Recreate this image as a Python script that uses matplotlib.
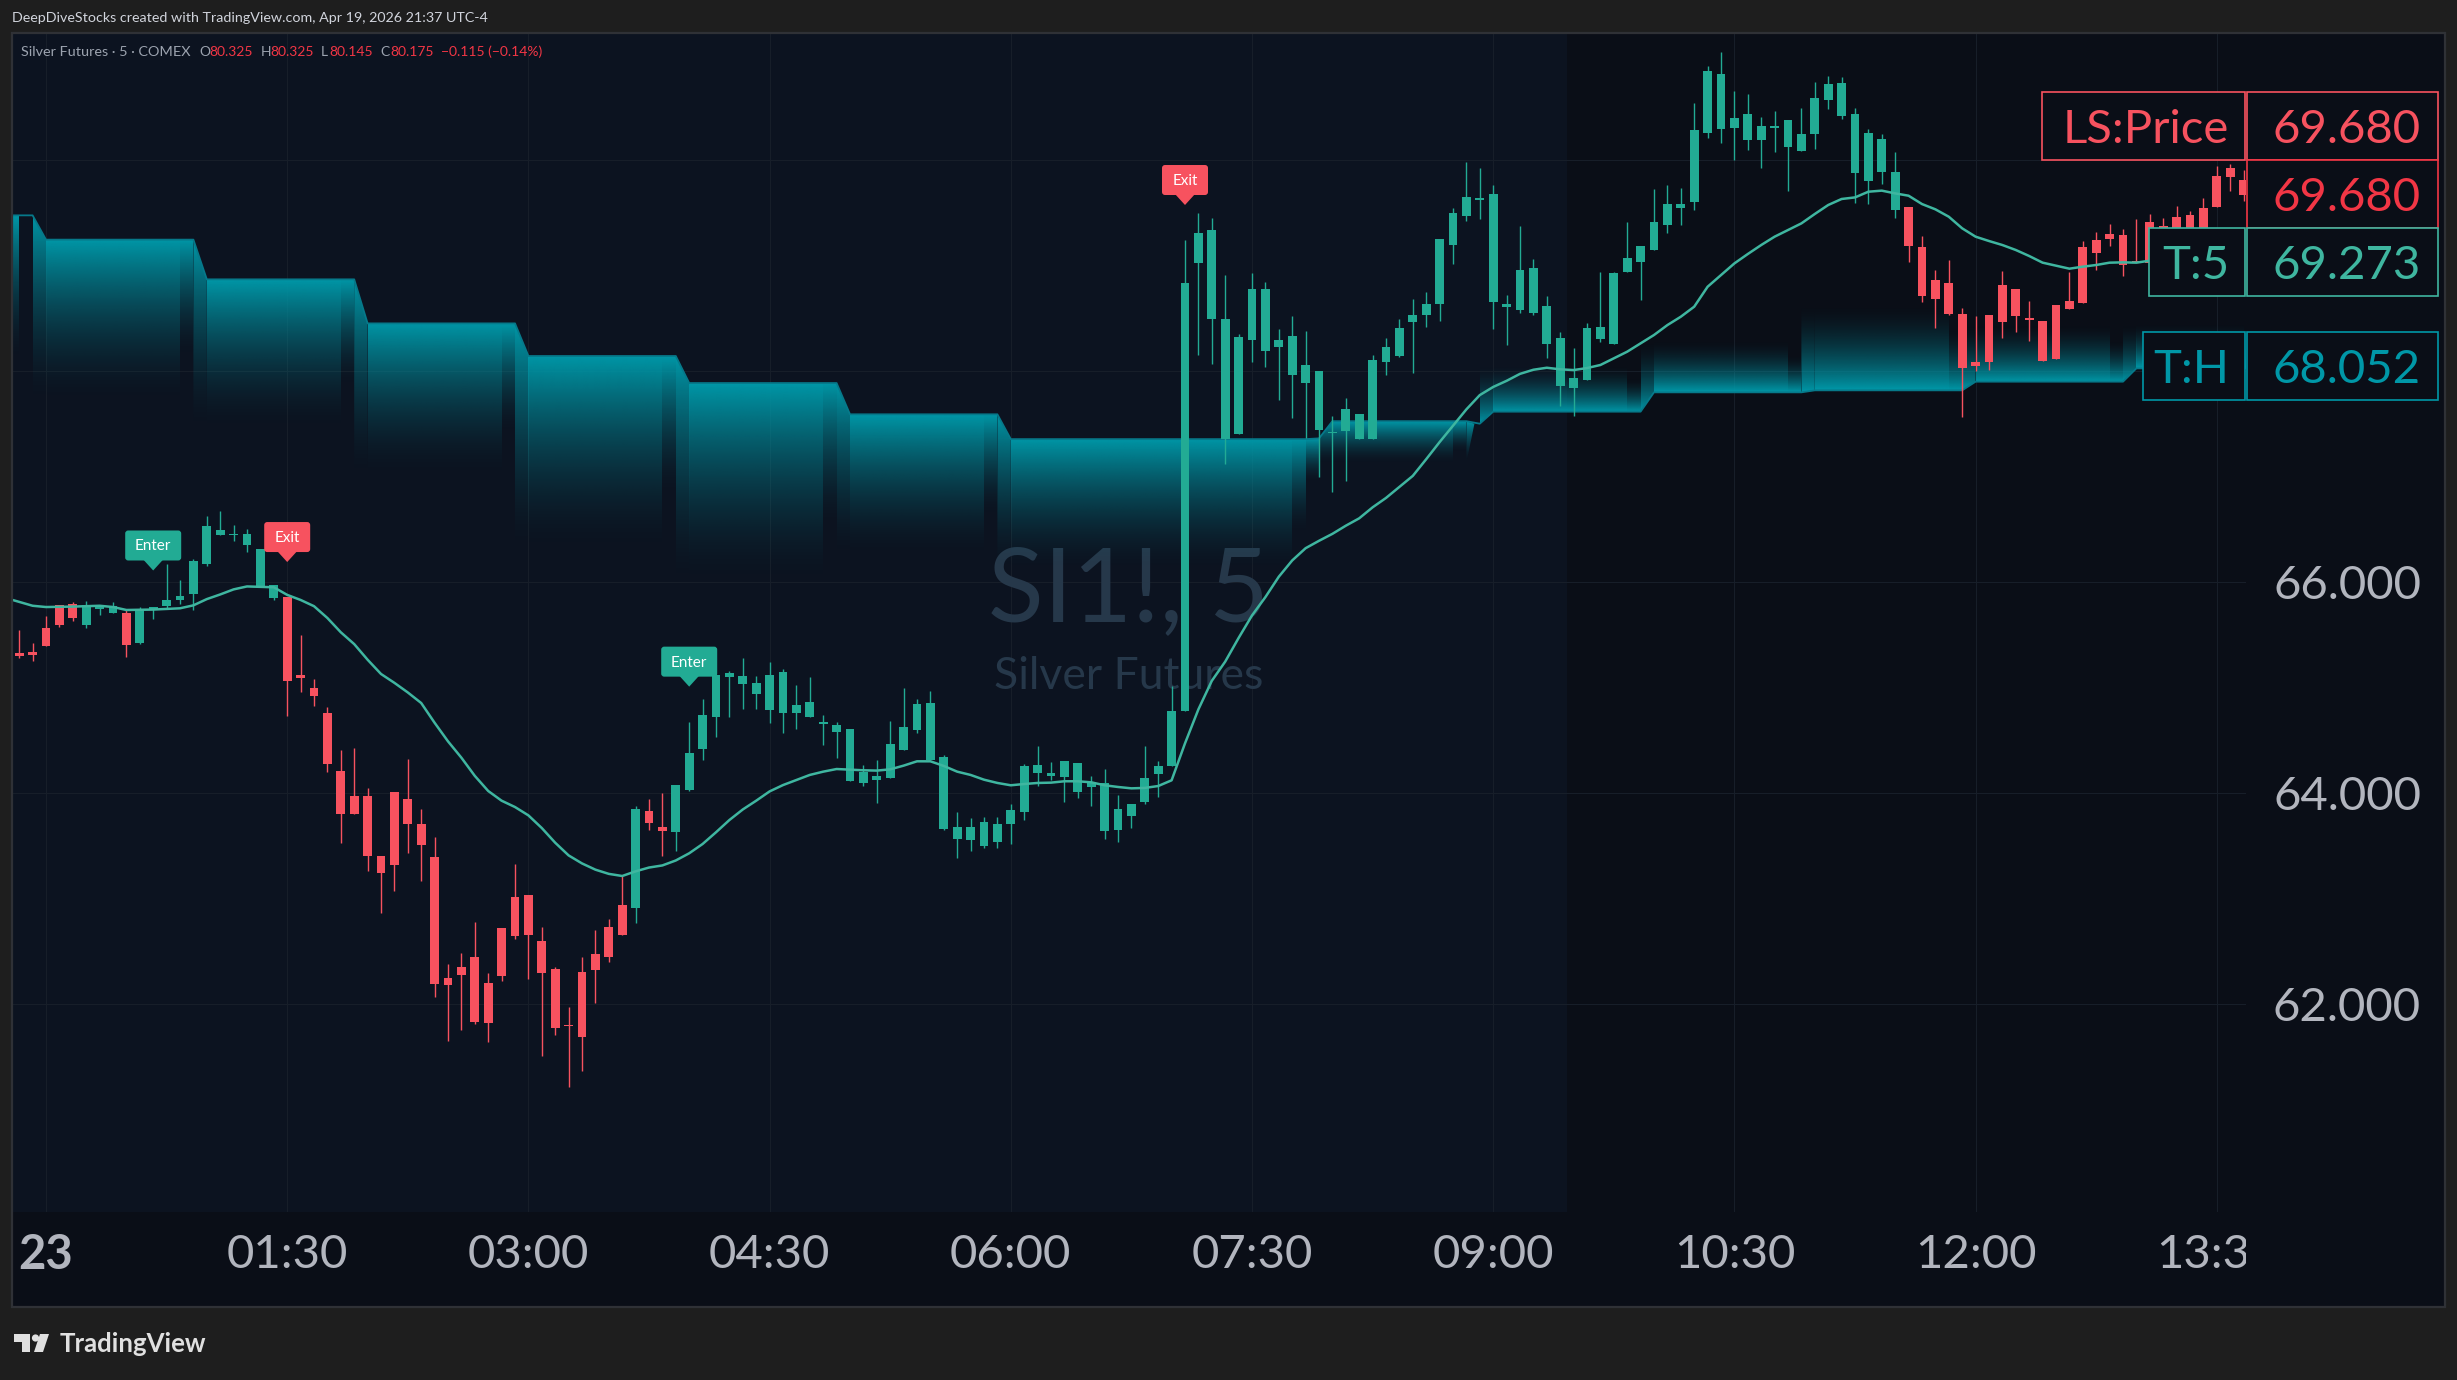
import numpy as np
import matplotlib
matplotlib.use("Agg")
import matplotlib.pyplot as plt
from matplotlib.colors import to_rgb
from matplotlib.patches import Polygon, Rectangle, FancyBboxPatch, Circle

plt.rcParams['font.family'] = ['Lato', 'DejaVu Sans']

# 5 minute bars, bar 0 is 00:00 on the 23rd
first_bar = -2
highs = [65.547, 65.424, 65.679, 65.783, 65.807, 65.823, 65.783, 65.807, 65.731, 65.763, 65.763, 66.169, 66.018, 66.217,
         66.624, 66.671, 66.536, 66.504, 66.313, 65.974, 65.858, 65.500, 65.081, 64.818, 64.408, 64.428, 64.049, 63.407,
         64.013, 64.324, 63.850, 63.586, 62.383, 62.487, 62.781, 62.295, 62.726, 63.331, 63.037, 62.734, 62.355, 61.976,
         62.451, 62.706, 62.809, 63.220, 63.877, 63.945, 64.001, 64.077, 64.675, 64.894, 65.121, 65.153, 65.280, 65.109,
         65.245, 65.173, 65.025, 65.101, 64.741, 64.674, 64.608, 64.267, 64.315, 64.684, 64.996, 64.892, 64.968, 64.362,
         63.822, 63.765, 63.775, 63.775, 63.898, 64.277, 64.447, 64.296, 64.305, 64.286, 64.163, 64.229, 63.983, 63.898,
         64.447, 64.305, 65.015, 69.239, 69.494, 69.448, 68.907, 68.350, 68.926, 68.841, 68.396, 68.520, 68.377, 67.998,
         67.573, 67.743, 67.592, 68.145, 68.307, 68.489, 68.678, 68.748, 69.247, 69.540, 69.977, 69.919, 69.761, 68.717,
         69.370, 69.057, 68.709, 68.370, 68.212, 68.456, 68.938, 68.938, 69.409, 69.182, 69.721, 69.759, 69.731, 70.533,
         70.886, 71.019, 70.649, 70.621, 70.403, 70.460, 70.375, 70.488, 70.735, 70.791, 70.782, 70.485, 70.289, 70.242,
         70.072, 69.551, 69.276, 68.954, 69.049, 68.594, 68.519, 68.528, 68.945, 68.774, 68.661, 68.471, 68.623, 68.935,
         69.229, 69.314, 69.390, 69.339, 69.437, 69.485, 69.444, 69.560, 69.513, 69.636, 69.939, 69.958, 69.901]
body_tops = [65.328, 65.336, 65.563, 65.783, 65.791, 65.783, 65.783, 65.775, 65.707, 65.731, 65.763, 65.830, 65.866, 66.201,
             66.532, 66.492, 66.456, 66.456, 66.313, 65.974, 65.858, 65.121, 64.997, 64.758, 64.212, 63.973, 63.973, 63.407,
             64.013, 63.945, 63.710, 63.395, 62.251, 62.355, 62.451, 62.204, 62.726, 63.017, 63.037, 62.602, 62.335, 61.805,
             62.307, 62.478, 62.734, 62.941, 63.850, 63.834, 63.682, 64.077, 64.380, 64.742, 65.121, 65.137, 65.109, 65.045,
             65.121, 65.149, 64.835, 64.864, 64.674, 64.646, 64.608, 64.201, 64.163, 64.466, 64.627, 64.845, 64.854, 64.343,
             63.680, 63.680, 63.727, 63.709, 63.841, 64.258, 64.267, 64.192, 64.305, 64.286, 64.106, 64.097, 63.851, 63.898,
             64.144, 64.258, 64.779, 68.833, 69.305, 69.336, 68.489, 68.319, 68.775, 68.775, 68.292, 68.331, 68.056, 67.998,
             67.422, 67.639, 67.592, 68.102, 68.226, 68.404, 68.528, 68.632, 69.247, 69.494, 69.645, 69.633, 69.676, 68.632,
             68.957, 68.972, 68.613, 68.307, 67.928, 68.402, 68.414, 68.926, 69.068, 69.182, 69.409, 69.579, 69.579, 70.280,
             70.839, 70.810, 70.394, 70.432, 70.318, 70.318, 70.375, 70.242, 70.583, 70.716, 70.725, 70.432, 70.252, 70.195,
             69.882, 69.551, 69.172, 68.860, 68.831, 68.538, 68.083, 68.528, 68.812, 68.774, 68.500, 68.471, 68.623, 68.661,
             69.172, 69.238, 69.295, 69.286, 69.043, 69.409, 69.371, 69.456, 69.475, 69.541, 69.844, 69.920, 69.806]
body_bots = [65.300, 65.308, 65.396, 65.591, 65.659, 65.591, 65.743, 65.707, 65.404, 65.424, 65.735, 65.775, 65.826, 65.886,
             66.169, 66.444, 66.444, 66.352, 65.950, 65.850, 65.061, 65.093, 64.922, 64.276, 63.802, 63.802, 63.407, 63.244,
             63.319, 63.710, 63.511, 62.196, 62.184, 62.279, 61.833, 61.825, 62.271, 62.650, 62.658, 62.299, 61.777, 61.797,
             61.693, 62.327, 62.451, 62.658, 62.913, 63.718, 63.642, 63.634, 64.029, 64.419, 64.722, 65.101, 65.033, 64.942,
             64.790, 64.758, 64.760, 64.722, 64.659, 64.580, 64.116, 64.097, 64.125, 64.144, 64.409, 64.599, 64.315, 63.661,
             63.567, 63.557, 63.500, 63.538, 63.709, 63.822, 64.192, 64.163, 64.154, 64.012, 64.059, 63.642, 63.652, 63.784,
             63.917, 64.182, 64.258, 64.774, 69.023, 68.489, 67.353, 67.403, 68.292, 68.188, 68.226, 67.959, 67.886, 67.442,
             67.414, 67.430, 67.353, 67.353, 68.083, 68.141, 68.462, 68.528, 68.632, 69.193, 69.467, 69.618, 68.651, 68.605,
             68.578, 68.547, 68.253, 67.856, 67.840, 67.913, 68.301, 68.257, 68.935, 69.030, 69.144, 69.380, 69.541, 69.598,
             70.252, 70.289, 70.299, 70.185, 70.185, 70.299, 70.119, 70.081, 70.242, 70.564, 70.413, 69.873, 69.797, 69.882,
             69.522, 69.182, 68.708, 68.680, 68.538, 68.026, 68.045, 68.083, 68.462, 68.519, 68.481, 68.092, 68.111, 68.585,
             68.642, 69.115, 69.248, 69.002, 69.033, 69.017, 69.017, 69.080, 69.144, 69.207, 69.551, 69.835, 69.663]
lows = [65.280, 65.252, 65.396, 65.575, 65.631, 65.563, 65.687, 65.707, 65.288, 65.416, 65.651, 65.751, 65.791, 65.731,
        66.153, 66.444, 66.384, 66.281, 65.950, 65.826, 64.730, 64.962, 64.826, 64.200, 63.531, 63.802, 63.264, 62.861,
        63.076, 63.435, 63.172, 62.072, 61.653, 61.757, 61.817, 61.645, 62.223, 62.622, 62.243, 61.514, 61.709, 61.215,
        61.367, 62.012, 62.403, 62.658, 62.773, 63.650, 63.407, 63.455, 64.021, 64.316, 64.531, 64.722, 64.802, 64.794,
        64.667, 64.571, 64.608, 64.722, 64.457, 64.334, 64.116, 64.068, 63.907, 64.144, 64.409, 64.570, 64.315, 63.652,
        63.387, 63.453, 63.481, 63.481, 63.519, 63.746, 64.068, 64.125, 63.917, 63.955, 63.879, 63.567, 63.538, 63.671,
        63.898, 63.964, 64.258, 64.774, 68.145, 68.060, 67.121, 67.403, 68.083, 68.037, 67.728, 67.557, 67.364, 66.997,
        66.854, 66.958, 67.353, 67.353, 67.959, 68.130, 67.975, 68.416, 68.474, 69.011, 69.421, 69.436, 68.396, 68.246,
        68.547, 68.528, 68.122, 67.666, 67.575, 67.913, 68.276, 68.257, 68.935, 68.670, 69.144, 69.308, 69.380, 69.522,
        70.204, 70.157, 69.996, 70.091, 69.920, 70.072, 69.702, 70.081, 70.100, 70.479, 70.384, 69.589, 69.579, 69.769,
        69.447, 69.030, 68.651, 68.405, 68.528, 67.565, 67.998, 68.007, 68.310, 68.367, 68.282, 68.092, 68.111, 68.585,
        68.642, 68.954, 69.182, 68.897, 69.033, 68.986, 68.986, 69.017, 69.080, 69.175, 69.551, 69.702, 69.608]
bar_states = "r" * 5 + "g" * 3 + "r" + "g" * 11 + "r" * 26 + "g" + "r" * 2 + "g" * 92 + "r" * 26

# T:5 line
trend_bars = [-2.5, -1, 0, 2, 4, 5, 6, 8, 10, 11, 12, 13, 14, 15, 16, 17, 18, 19, 20, 21, 22, 23, 24, 25, 26, 27, 28, 29, 30,
              31, 32, 33, 34, 35, 36, 37, 38, 39, 40, 41, 42, 43, 44, 45, 46, 47, 48, 49, 50, 51, 52, 53, 54, 55, 56, 57, 58,
              59, 60, 61, 62, 63, 64, 65, 66, 67, 68, 69, 70, 71, 72, 73, 74, 75, 76, 77, 78, 79, 80, 81, 82, 83, 84, 85, 86,
              87, 88, 89, 90, 91, 92, 93, 94, 95, 96, 97, 98, 99, 100, 101, 102, 103, 104, 105, 106, 107, 108, 109, 110, 111,
              112, 113, 114, 115, 116, 117, 118, 119, 120, 121, 122, 123, 124, 125, 126, 127, 128, 129, 130, 131, 132, 133,
              134, 135, 136, 137, 138, 139, 140, 141, 142, 143, 144, 145, 146, 147, 148, 149, 150, 151, 152, 153, 154, 155,
              156, 160, 164]
trend_vals = [65.830, 65.775, 65.763, 65.767, 65.775, 65.763, 65.735, 65.739, 65.751, 65.779, 65.838, 65.882, 65.930, 65.958,
              65.954, 65.950, 65.878, 65.830, 65.771, 65.659, 65.524, 65.412, 65.264, 65.129, 65.045, 64.954, 64.854, 64.667,
              64.491, 64.336, 64.164, 64.021, 63.929, 63.869, 63.790, 63.670, 63.531, 63.411, 63.335, 63.276, 63.236, 63.216,
              63.260, 63.296, 63.316, 63.363, 63.431, 63.519, 63.630, 63.746, 63.846, 63.929, 64.017, 64.077, 64.125, 64.173,
              64.204, 64.229, 64.223, 64.217, 64.214, 64.226, 64.261, 64.302, 64.302, 64.258, 64.204, 64.173, 64.128, 64.097,
              64.075, 64.087, 64.097, 64.100, 64.113, 64.113, 64.103, 64.075, 64.059, 64.046, 64.050, 64.068, 64.122, 64.472,
              64.794, 65.064, 65.246, 65.470, 65.683, 65.857, 66.050, 66.204, 66.320, 66.390, 66.456, 66.533, 66.603, 66.707,
              66.796, 66.900, 67.005, 67.163, 67.325, 67.480, 67.635, 67.770, 67.847, 67.905, 67.971, 68.010, 68.029, 68.014,
              68.007, 68.026, 68.055, 68.118, 68.181, 68.260, 68.339, 68.433, 68.512, 68.607, 68.796, 68.907, 69.017, 69.106,
              69.191, 69.270, 69.333, 69.396, 69.485, 69.570, 69.627, 69.642, 69.696, 69.706, 69.680, 69.658, 69.579, 69.529,
              69.459, 69.349, 69.270, 69.229, 69.191, 69.144, 69.087, 69.024, 68.995, 68.967, 68.986, 69.002, 69.024, 69.027,
              69.024, 69.100, 69.273]

# T:H steps: bar where the step starts, its level, and where its gradient has faded out
band_starts = [-3, -1, 11, 23, 35, 47, 59, 71, 94, 95, 106, 107, 119, 131, 143, 155]
band_levels = [69.472, 69.242, 68.866, 68.449, 68.140, 67.884, 67.588, 67.353, 67.360, 67.523, 67.499, 67.613, 67.796, 67.815,
               67.897, 68.023]
band_fades = [68.100, 67.700, 67.450, 67.000, 66.300, 66.000, 66.250, 66.100, 66.950, 67.120, 67.130, 68.050, 68.280, 68.620,
              68.440, 68.440]

price_ticks = [66, 64, 62]
grid_prices = [70, 68, 66, 64, 62]
time_ticks = [0, 18, 36, 54, 72, 90, 108, 126, 144, 162]
time_labels = ['23', '01:30', '03:00', '04:30', '06:00', '07:30', '09:00', '10:30', '12:00', '13:30']

signal_bars = [8, 18, 48, 85]
signal_prices = [66.109, 66.189, 65.009, 69.570]
signal_texts = ['Enter', 'Exit', 'Enter', 'Exit']

table_labels = ['LS:Price', None, 'T:5', 'T:H']
table_values = ['69.680', '69.680', '69.273', '68.052']

GREEN = '#22ab94'
RED = '#f7525f'
LINE = '#3fb6a0'
TEAL = '#0097a7'
DARK = '#0a0e17'
PANE = '#0c1320'
GRID = '#171e29'
AXIS_TEXT = '#b2b5be'
W, H = 2457, 1380


def px_axes(x0, y0, x1, y1):
    return fig.add_axes([x0 / W, 1 - y1 / H, (x1 - x0) / W, (y1 - y0) / H])


def grad_poly(points, y_from, y_to):
    # vertical gradient, solid at y_from and gone at y_to, cut to the polygon
    img = np.zeros((128, 2, 4))
    img[..., :3] = to_rgb(TEAL)
    img[..., 3] = (np.linspace(1, 0, 128) ** 1.7)[:, None]
    xs = [p[0] for p in points]
    if y_from > y_to:
        im = ax.imshow(img, extent=(min(xs), max(xs), y_to, y_from), origin='upper', aspect='auto',
                       interpolation='bilinear', zorder=2)
    else:
        im = ax.imshow(img, extent=(min(xs), max(xs), y_from, y_to), origin='lower', aspect='auto',
                       interpolation='bilinear', zorder=2)
    im.set_clip_path(Polygon(points, transform=ax.transData))


fig = plt.figure(figsize=(W / 100, H / 100), dpi=100, facecolor='#1e1e1e')

# price pane
ax = px_axes(12, 33, 2246, 1212)
ax.set_facecolor(DARK)
ax.set_xlim((12 - 46) / 13.4, (2246 - 46) / 13.4)
ax.set_ylim(66 - (1212 - 582) / 105.6, 66 + (582 - 33) / 105.6)
ax.set_autoscale_on(False)
for s in ax.spines.values():
    s.set_visible(False)
ax.set_xticks([])
ax.set_yticks([])
ax.axvspan(ax.get_xlim()[0], 113.5, color=PANE, lw=0, zorder=0)
for t in time_ticks:
    ax.axvline(t, color=GRID, lw=0.8, zorder=0.5)
for p in grid_prices:
    ax.axhline(p, color=GRID, lw=0.8, zorder=0.5)

# watermark
ax.text(80.8, 65.63, 'SI1!, 5', color='#26384a', fontsize=74, ha='center', va='baseline', zorder=1)
ax.text(80.8, 64.99, 'Silver Futures', color='#26384a', fontsize=32, ha='center', va='baseline', zorder=1)

# T:H band
line_x, line_y = [], []
for k, start in enumerate(band_starts):
    level, fade = band_levels[k], band_fades[k]
    prev = band_levels[k - 1] if k else level
    end = band_starts[k + 1] if k + 1 < len(band_starts) else 165
    line_x += [start, start + 1, end]
    line_y += [prev, level, level]
    if start == 106:
        # the short spike just before the step up
        grad_poly([(106, prev), (106, fade), (106.6, level)], prev, fade)
        continue
    y_from = max(prev, level) if fade < level else min(prev, level)
    grad_poly([(start, prev), (start + 1, level), (start + 1, fade), (start, fade)], y_from, fade)
    if end - start > 2:
        tail = level + (fade - level) * 0.72
        grad_poly([(start + 1, level), (end - 1, level), (end - 1, fade), (start + 1, fade)], level, fade)
        grad_poly([(end - 1, level), (end, level), (end, tail), (end - 1, tail)], level, tail)
ax.plot(line_x, line_y, color='#06798a', lw=1.3, zorder=2.5)

# candles
bar_idx = np.arange(first_bar, first_bar + len(highs))
colors = [GREEN if s == 'g' else RED for s in bar_states]
ax.vlines(bar_idx, lows, highs, colors=colors, lw=1.0, zorder=3)
ax.bar(bar_idx, np.array(body_tops) - np.array(body_bots), bottom=body_bots, width=0.67, color=colors, lw=0, zorder=3.1)
ax.plot(trend_bars, trend_vals, color=LINE, lw=1.8, zorder=4)

# time axis
ax_time = px_axes(12, 1212, 2246, 1307)
ax_time.set_facecolor(DARK)
ax_time.set_xlim(ax.get_xlim())
ax_time.set_ylim(0, 1)
ax_time.axis('off')
ax_time.add_patch(Rectangle((0, 0), 1, 1, transform=ax_time.transAxes, color=DARK, lw=0))
for t, lab in zip(time_ticks, time_labels):
    ax_time.text(t, 0.55, lab, color=AXIS_TEXT, fontsize=34, ha='center', va='center', clip_on=True,
                 fontweight='bold' if lab == '23' else 'normal')

# everything else is placed in pixels on top
ov = fig.add_axes([0, 0, 1, 1], facecolor='none')
ov.set_xlim(0, W)
ov.set_ylim(H, 0)
ov.axis('off')
ov.add_patch(Rectangle((2246, 33), 199, 1274, color=DARK, lw=0, zorder=0))
ov.add_patch(Rectangle((12, 33), 2433, 1274, fill=False, ec='#2f3136', lw=1.6, zorder=1))
for p in price_ticks:
    y = 582 + (66 - p) * 105.6
    ov.text(2421, y + 4, f'{p:.3f}', color=AXIS_TEXT, fontsize=34, ha='right', va='center')

# header and legend
ov.text(12, 18, 'DeepDiveStocks created with TradingView.com, Apr 19, 2026 21:37 UTC-4', color='#d1d4dc', fontsize=10.3,
        ha='left', va='center')
ov.text(21, 52, 'Silver Futures · 5 · COMEX', color='#9ca3af', fontsize=10.4, ha='left', va='center')
for x, s, c in [(199, 'O', '#9ca3af'), (209, '80.325', '#f23645'), (261, 'H', '#9ca3af'), (270, '80.325', '#f23645'),
                (321, 'L', '#9ca3af'), (329, '80.145', '#f23645'), (380, 'C', '#9ca3af'), (390, '80.175', '#f23645'),
                (441, '−0.115 (−0.14%)', '#f23645')]:
    ov.text(x, 52, s, color=c, fontsize=10, ha='left', va='center')

# signal labels
for bar, price, text in zip(signal_bars, signal_prices, signal_texts):
    tx, ty = ov.transData.inverted().transform(ax.transData.transform((bar, price)))
    c = GREEN if text == 'Enter' else RED
    half = 28 if text == 'Enter' else 23
    ov.add_patch(Polygon([(tx - 10, ty - 11), (tx + 10, ty - 11), (tx, ty)], color=c, lw=0, zorder=5))
    ov.add_patch(FancyBboxPatch((tx - half + 2, ty - 38), half * 2 - 4, 26, boxstyle='round,pad=2,rounding_size=3',
                                fc=c, ec='none', zorder=5))
    ov.text(tx, ty - 24, text, color='white', fontsize=11, ha='center', va='center', zorder=6)

# status table
rows_y = [92, 160, 228, 332]
row_colors = ['#f7525f', '#f23645', '#3fb6a0', TEAL]
label_left = [2042, None, 2149, 2143]
for y, lab, val, c, left in zip(rows_y, table_labels, table_values, row_colors, label_left):
    ov.add_patch(Rectangle((2247, y), 191, 68, fc=DARK, ec=c, lw=1.2, zorder=6))
    ov.text(2421, y + 38, val, color=c, fontsize=34, ha='right', va='center', zorder=7)
    if lab:
        ov.add_patch(Rectangle((left, y), 2245 - left, 68, fc=DARK, ec=c, lw=1.2, zorder=6))
        ov.text(2229, y + 38, lab, color=c, fontsize=34, ha='right', va='center', zorder=7)

# TradingView logo
ov.add_patch(Polygon([(14, 1334), (30, 1334), (30, 1352), (22, 1352), (22, 1342), (14, 1342)], color='#e0e0e0', lw=0))
ov.add_patch(Circle((35.5, 1338), 3.6, color='#e0e0e0', lw=0))
ov.add_patch(Polygon([(40, 1334), (49, 1334), (43, 1352), (34, 1352)], color='#e0e0e0', lw=0))
ov.text(60, 1344, 'TradingView', color='#e0e0e0', fontsize=18.5, fontweight='bold', ha='left', va='center')

fig.savefig('out.png', dpi=100, facecolor=fig.get_facecolor())
